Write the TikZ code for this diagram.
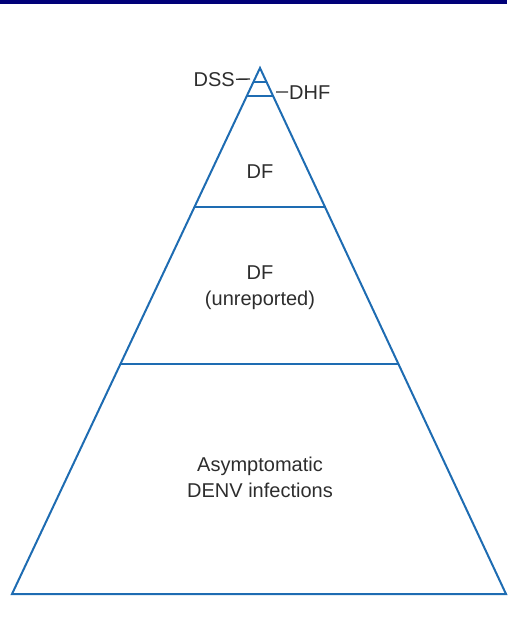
\documentclass[tikz,border=0pt]{standalone}
\usepackage{fontspec}
\setmainfont{Liberation Sans}
\usepackage{xcolor}
\usetikzlibrary{calc}
\definecolor{pyrblue}{RGB}{30,108,178}
\definecolor{txtgray}{RGB}{45,45,45}
\definecolor{barnavy}{RGB}{0,0,120}

\begin{document}
\begin{tikzpicture}[x=1pt,y=-1pt,
    level/.style={draw=pyrblue,line width=2pt,line join=miter},
    tick/.style={draw=txtgray,line width=1.4pt},
    tag/.style={text=txtgray,font=\fontsize{20}{26}\selectfont,align=center,inner sep=1pt}]
 	\useasboundingbox (0,0) rectangle (507,622);
 	\fill[barnavy] (0,0) rectangle (507,4);
 	% pyramid
 	\coordinate (apex) at (260,68);
 	\coordinate (bl) at (12,594);
 	\coordinate (br) at (506,594);
 	\draw[level] (apex) -- (bl) -- (br) -- cycle;
 	\foreach \t in {0.0266,0.0532,0.2643,0.5627}
 		\draw[level] ($(apex)!\t!(bl)$) -- ($(apex)!\t!(br)$);
 	% labels
 	\node[tag,anchor=base east] (dss) at (236,86.5) {DSS};
 	\node[tag,anchor=base west] (dhf) at (288,99) {DHF};
 	\coordinate (dssend) at (250,79);
 	\coordinate (dhfend) at (276,92);
 	\draw[tick] (dss) -- (dssend);
 	\draw[tick] (dhf) -- (dhfend);
 	\node[tag,anchor=base] (df) at (260,178) {DF};
 	\node[tag,anchor=base] (dfun) at (260,305) {DF\\(unreported)};
 	\node[tag,anchor=base] (asym) at (260,497) {Asymptomatic\\DENV infections};
\end{tikzpicture}
\end{document}
